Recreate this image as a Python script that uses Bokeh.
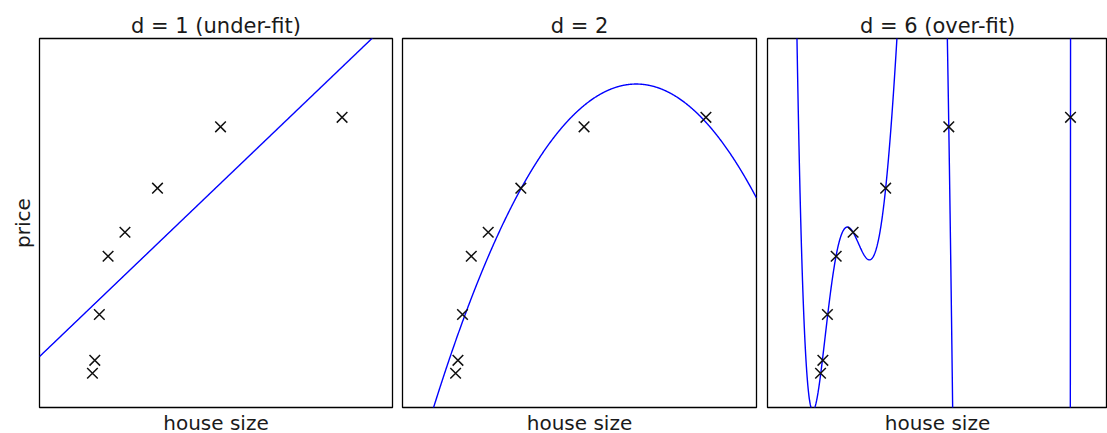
import numpy as np
from bokeh.plotting import figure
from bokeh.layouts import row
from bokeh.models import Range1d, Title
from bokeh.embed import file_html
from bokeh.resources import INLINE

# house sizes and prices (arbitrary units)
house_size = [0.01, 0.0193, 0.0373, 0.0720, 0.139, 0.268, 0.518, 1.0]
price = [-0.070, -0.021, 0.153, 0.374, 0.465, 0.632, 0.865, 0.901]

degrees = [1, 2, 6]
titles = ["d = 1 (under-fit)", "d = 2", "d = 6 (over-fit)"]

FONT = "DejaVu Sans"
x_fit = np.linspace(-0.2, 1.2, 1000)

# per-panel geometry: (frame width, left border, right border, x max)
geom = [
    (353, 39, 5, 1.2),
    (354, 5, 6, 1.2),
    (340, 5, 0, -0.2 + 340 / 252.5),
]

panels = []
for i, (d, t) in enumerate(zip(degrees, titles)):
    fw, bl, br, xmax = geom[i]
    p = figure(
        frame_width=fw, frame_height=369,
        x_range=Range1d(-0.2, xmax), y_range=Range1d(-0.2, 1.2),
        output_backend="svg", toolbar_location=None,
        min_border_left=bl, min_border_right=br,
        min_border_top=38, min_border_bottom=26,
    )
    p.xaxis.visible = False
    p.yaxis.visible = False
    p.xgrid.visible = False
    p.ygrid.visible = False
    p.outline_line_color = "#000000"
    p.outline_line_width = 1.3
    p.background_fill_color = "white"
    p.border_fill_color = "white"

    p.title.text = t
    p.title.align = "center"
    p.title.text_font = FONT
    p.title.text_font_size = "21px"
    p.title.text_font_style = "normal"
    p.title.text_color = "#1a1a1a"
    p.title.standoff = 2
    p.title.offset = 0

    p.add_layout(Title(text="house size", align="center", text_font=FONT,
                       text_font_size="20px", text_font_style="normal",
                       text_color="#1a1a1a", standoff=2), "below")
    if i == 0:
        p.add_layout(Title(text="price", align="center", text_font=FONT,
                           text_font_size="20px", text_font_style="normal",
                           text_color="#1a1a1a", standoff=9), "left")

    coef = np.polyfit(house_size, price, d)
    p.line(x_fit, np.polyval(coef, x_fit), line_color="#0000ff", line_width=1.4)
    p.scatter(house_size, price, marker="x", size=15, line_color="#111111",
              line_width=1.5)
    panels.append(p)

layout = row(*panels, spacing=0)
open("out.html", "w").write(file_html(layout, INLINE))
